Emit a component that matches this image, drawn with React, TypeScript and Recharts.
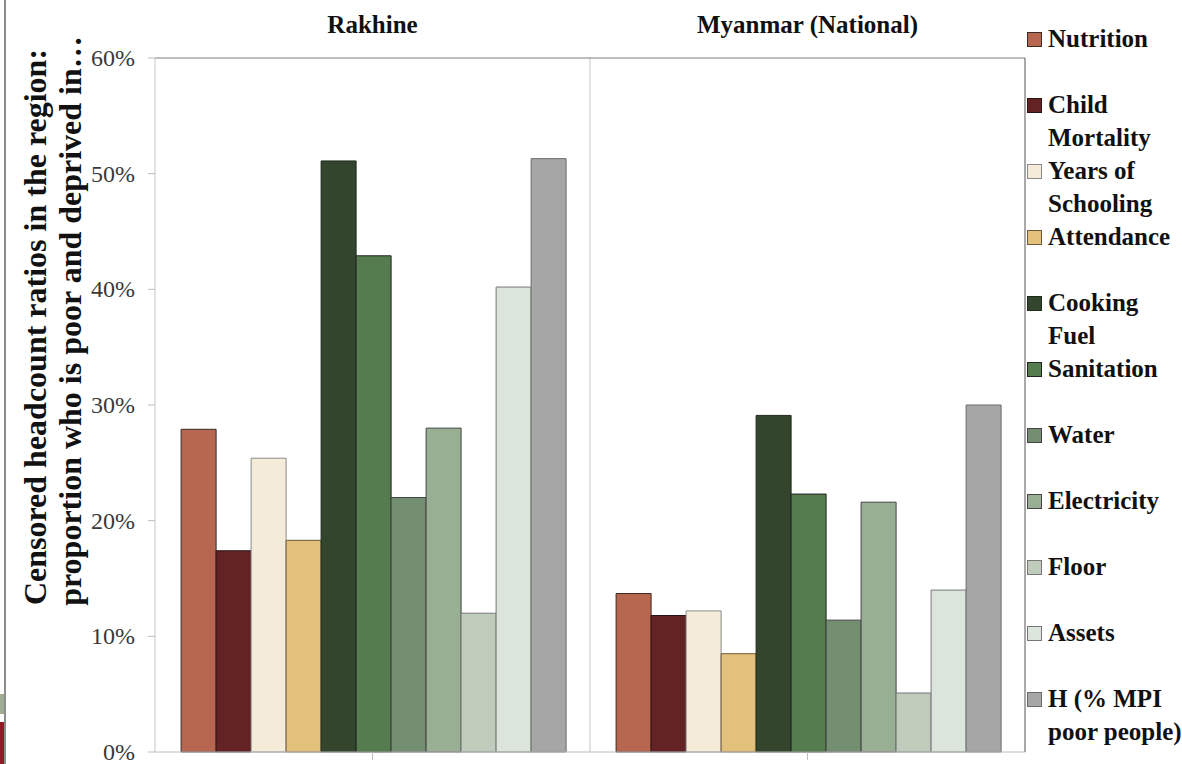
import React from 'react';
import { BarChart, Bar, XAxis, YAxis, CartesianGrid, ReferenceLine } from 'recharts';

const regions = ['Rakhine', 'Myanmar (National)'];

const indicators = [
  'Nutrition',
  'Child Mortality',
  'Years of Schooling',
  'Attendance',
  'Cooking Fuel',
  'Sanitation',
  'Water',
  'Electricity',
  'Floor',
  'Assets',
  'H (% MPI poor people)',
];

// censored headcount ratios, one value per region (Rakhine, Myanmar)
const nutrition = [0.279, 0.137];
const childMortality = [0.174, 0.118];
const yearsOfSchooling = [0.254, 0.122];
const attendance = [0.183, 0.085];
const cookingFuel = [0.511, 0.291];
const sanitation = [0.429, 0.223];
const water = [0.22, 0.114];
const electricity = [0.28, 0.216];
const floor = [0.12, 0.051];
const assets = [0.402, 0.14];
const headcountH = [0.513, 0.3];

const yTicks = [0, 0.1, 0.2, 0.3, 0.4, 0.5, 0.6];

const seriesValues = [
  nutrition, childMortality, yearsOfSchooling, attendance, cookingFuel,
  sanitation, water, electricity, floor, assets, headcountH,
];

const fills = [
  '#B76650', '#632325', '#F4EBD8', '#E3C07B', '#33452C', '#547C4C',
  '#738E70', '#98AF94', '#BFCBBB', '#DCE5DB', '#A6A6A6',
];
const strokes = [
  '#3a2a26', '#2a1414', '#8a8a8a', '#6b5a3a', '#1e2a1a', '#222',
  '#444', '#444', '#777', '#777', '#6a6a6a',
];

const data = regions.map((region, i) => {
  const row: Record<string, string | number> = { region };
  indicators.forEach((name, k) => {
    row[name] = seriesValues[k][i];
  });
  return row;
});

const serif = '"Liberation Serif", "DejaVu Serif", serif';

function RegionTitle(props: any) {
  const { x, payload } = props;
  return (
    <text x={x} y={33} textAnchor="middle" fontFamily={serif} fontWeight="bold" fontSize={25} fill="#111">
      {payload.value}
    </text>
  );
}

function PercentTick(props: any) {
  const { x, y, payload } = props;
  return (
    <text x={x} y={y} dy={8} textAnchor="end" fontFamily={serif} fontSize={24} fill="#3a3a3a">
      {`${Math.round(payload.value * 100)}%`}
    </text>
  );
}

function AxisTitle() {
  return (
    <g fontFamily={serif} fontWeight="bold" fontSize={32} fill="#111">
      <text x={46} y={327} textAnchor="middle" transform="rotate(-90, 46, 327)">
        Censored headcount ratios in the region:
      </text>
      <text x={81} y={321} textAnchor="middle" transform="rotate(-90, 81, 321)">
        proportion who is poor and deprived in…
      </text>
    </g>
  );
}

function SeriesLegend() {
  return (
    <div
      style={{
        position: 'absolute',
        left: 1027,
        top: 22,
        width: 160,
        fontFamily: serif,
        fontWeight: 'bold',
        fontSize: 25,
        color: '#111',
        lineHeight: '33px',
      }}
    >
      {indicators.map((name, k) => (
        <div key={name} style={{ height: 66, display: 'flex', alignItems: 'flex-start' }}>
          <span
            style={{
              width: 13,
              height: 13,
              marginTop: 10,
              marginRight: 6,
              flex: 'none',
              background: fills[k],
              border: `1px solid ${strokes[k]}`,
            }}
          />
          <span style={{ width: 140 }}>{name}</span>
        </div>
      ))}
    </div>
  );
}

export default function App() {
  return (
    <div style={{ position: 'absolute', left: 0, top: 0, width: 1182, height: 764, background: '#fff', overflow: 'hidden' }}>
      <div style={{ position: 'absolute', left: 0, top: 0, width: 4, height: 764, borderRight: '2px solid #8c8c8c' }} />
      <div style={{ position: 'absolute', left: 0, top: 694, width: 4, height: 20, background: '#9fae95' }} />
      <div style={{ position: 'absolute', left: 0, top: 722, width: 4, height: 42, background: '#8d1c24' }} />
      <BarChart
        width={1182}
        height={764}
        data={data}
        margin={{ top: 0, right: 156, bottom: 0, left: 0 }}
        barCategoryGap="6%"
        barGap={0}
      >
        <CartesianGrid
          horizontal={false}
          stroke="#c4c4c4"
          verticalCoordinatesGenerator={({ offset }: any) => [offset.left + offset.width / 2]}
        />
        <XAxis
          xAxisId="top"
          orientation="top"
          dataKey="region"
          height={58}
          axisLine={false}
          tickLine={false}
          tick={<RegionTitle />}
        />
        <XAxis
          xAxisId="bottom"
          dataKey="region"
          height={12}
          axisLine={{ stroke: '#bdbdbd' }}
          tickLine={{ stroke: '#bdbdbd' }}
          tickSize={8}
          tick={() => <g />}
        />
        <YAxis
          yAxisId="left"
          width={155}
          domain={[0, 0.6]}
          ticks={yTicks}
          axisLine={{ stroke: '#c4c4c4' }}
          tickLine={{ stroke: '#bdbdbd' }}
          tickSize={7}
          tickMargin={13}
          tick={<PercentTick />}
        />
        <YAxis
          yAxisId="right"
          orientation="right"
          width={1}
          domain={[0, 0.6]}
          ticks={[0.6]}
          axisLine={{ stroke: '#555' }}
          tickLine={false}
          tick={false}
        />
        <ReferenceLine y={0.6} yAxisId="left" xAxisId="bottom" stroke="#7f7f7f" />
        {indicators.map((name, k) => (
          <Bar
            key={name}
            dataKey={name}
            xAxisId="bottom"
            yAxisId="left"
            fill={fills[k]}
            stroke={strokes[k]}
            strokeWidth={1}
            isAnimationActive={false}
          />
        ))}
        <AxisTitle />
      </BarChart>
      <SeriesLegend />
    </div>
  );
}
